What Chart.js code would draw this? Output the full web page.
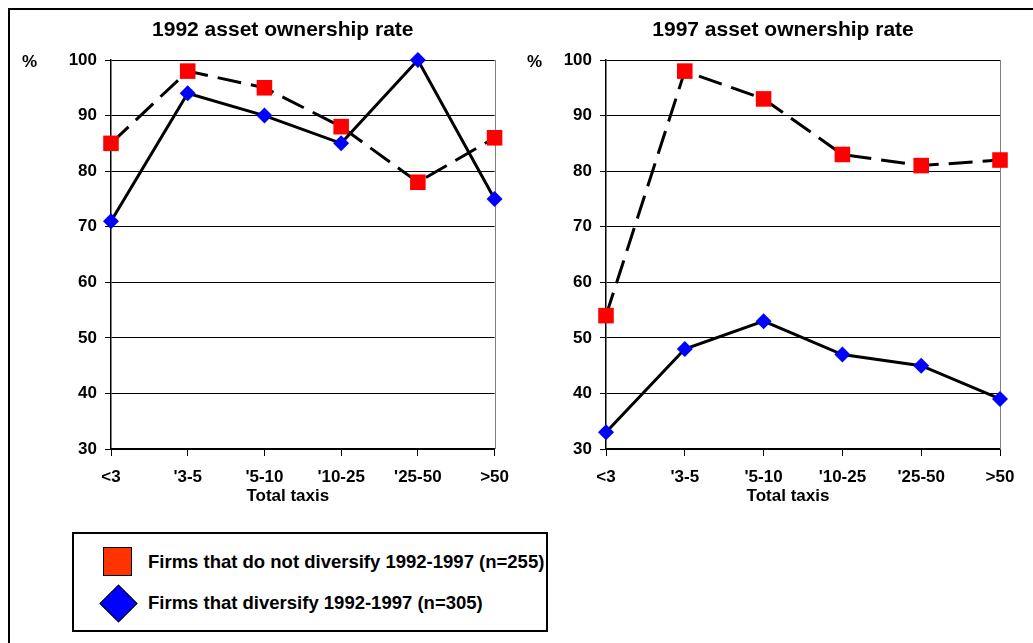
<!DOCTYPE html>
<html>
<head>
<meta charset="utf-8">
<script src="https://cdn.jsdelivr.net/npm/chart.js@4.4.1/dist/chart.umd.min.js"></script>
<style>
  html, body { margin: 0; padding: 0; background: #fff; width: 1033px; height: 643px; overflow: hidden;
               font-family: "Liberation Sans", Arial, sans-serif; }
  #frame { position: absolute; left: 8px; top: 8px; width: 1100px; height: 700px;
           border-left: 2px solid #000; border-top: 2px solid #000; }
  canvas { position: absolute; top: 0; }
  #c1 { left: 0; }
  #c2 { left: 520px; }
  #legend { position: absolute; left: 72px; top: 532px; width: 476px; height: 100px;
            border: 2px solid #000; box-sizing: border-box; background: #fff; }
  #legend .item { position: absolute; left: 74px; font-weight: bold; font-size: 18.5px; line-height: 20px;
                  color: #000; white-space: nowrap; }
  #legend .sq { position: absolute; left: 29px; top: 13px; width: 29px; height: 29px;
                background: #ff3300; border: 1.5px solid #000; box-sizing: border-box; }
  #legend .dm { position: absolute; left: 31px; top: 56px; width: 27px; height: 27px;
                background: #0000ff; border: 1.5px solid #000; box-sizing: border-box; transform: rotate(45deg); }
</style>
</head>
<body>
<div id="frame"></div>
<canvas id="c1" width="520" height="520"></canvas>
<canvas id="c2" width="513" height="520"></canvas>
<div id="legend">
  <div class="sq"></div>
  <div class="item" style="top:18px">Firms that do not diversify 1992-1997 (n=255)</div>
  <div class="dm"></div>
  <div class="item" style="top:59px">Firms that diversify 1992-1997 (n=305)</div>
</div>
<script>
// Firm-size bands (number of taxis)
const categories = ['<3', "'3-5", "'5-10", "'10-25", "'25-50", '>50'];

// Asset ownership rate (%), 1992
const nonDiversifying1992 = [85, 98, 95, 88, 78, 86];
const diversifying1992 = [71, 94, 90, 85, 100, 75];

// Asset ownership rate (%), 1997
const nonDiversifying1997 = [54, 98, 93, 83, 81, 82];
const diversifying1997 = [33, 48, 53, 47, 45, 39];

// Value axis
const yMin = 30;
const yMax = 100;
const yStep = 10;

const seriesNames = ['Firms that do not diversify 1992-1997 (n=255)', 'Firms that diversify 1992-1997 (n=305)'];

const FONT = '"Liberation Sans", Arial, sans-serif';

// Titles, the "%" unit, the axis caption and the grey frame on the right of the plot
const decor = {
  id: 'decor',
  beforeDatasetsDraw(chart, args, opts) {
    const { ctx, chartArea: a } = chart;
    ctx.save();
    ctx.strokeStyle = '#808080';
    ctx.lineWidth = 1;
    ctx.beginPath();
    ctx.moveTo(Math.round(a.right) + 0.5, a.top);
    ctx.lineTo(Math.round(a.right) + 0.5, a.bottom);
    ctx.stroke();
    ctx.restore();
  },
  afterDraw(chart, args, opts) {
    const { ctx, chartArea: a } = chart;
    const mid = (a.left + a.right) / 2;
    ctx.save();
    ctx.fillStyle = '#000';
    ctx.textBaseline = 'middle';
    ctx.textAlign = 'center';
    ctx.font = 'bold 21px ' + FONT;
    ctx.fillText(opts.title, mid - 20, 30);
    ctx.font = 'bold 17px ' + FONT;
    ctx.fillText('Total taxis', mid - 15, 496);
    ctx.textAlign = 'left';
    ctx.fillText('%', opts.unitX, 62);
    ctx.restore();
  }
};

function makeChart(id, title, redValues, blueValues, yWidth, padRight, unitX) {
  return new Chart(document.getElementById(id), {
    type: 'line',
    data: {
      labels: categories,
      datasets: [
        {
          label: seriesNames[1],
          data: blueValues,
          borderColor: '#000',
          borderWidth: 3,
          pointStyle: 'rectRot',
          pointRadius: 8,
          pointBackgroundColor: '#0000ff',
          pointBorderColor: '#0000ff',
          pointBorderWidth: 0,
          tension: 0,
          clip: false
        },
        {
          label: seriesNames[0],
          data: redValues,
          borderColor: '#000',
          borderWidth: 3,
          borderDash: [24, 10],
          pointStyle: 'rect',
          pointRadius: 11,
          pointBackgroundColor: '#ff0000',
          pointBorderColor: '#ff0000',
          pointBorderWidth: 0,
          tension: 0,
          clip: false
        }
      ]
    },
    options: {
      responsive: false,
      animation: false,
      layout: { padding: { top: 60, right: padRight, bottom: 0, left: 0 } },
      plugins: {
        legend: { display: false },
        tooltip: { enabled: false },
        title: { display: false },
        decor: { title: title, unitX: unitX }
      },
      scales: {
        x: {
          type: 'category',
          offset: false,
          grid: { display: true, drawOnChartArea: false, drawTicks: true, tickLength: 7, color: '#000', lineWidth: 1 },
          border: { display: true, color: '#000', width: 1.5 },
          ticks: { color: '#000', font: { family: FONT, size: 17, weight: 'bold' }, padding: 11,
                   maxRotation: 0, autoSkip: false },
          afterFit(scale) { scale.height = 71; }
        },
        y: {
          min: yMin,
          max: yMax,
          grid: { color: '#000', lineWidth: 1, tickLength: 6, drawTicks: true },
          border: { display: true, color: '#000', width: 1.5 },
          ticks: { stepSize: yStep, color: '#000', font: { family: FONT, size: 17, weight: 'bold' }, padding: 8 },
          afterFit(scale) { scale.width = yWidth; }
        }
      }
    },
    plugins: [decor]
  });
}

makeChart('c1', '1992 asset ownership rate', nonDiversifying1992, diversifying1992, 111, 16, 22);
makeChart('c2', '1997 asset ownership rate', nonDiversifying1997, diversifying1997, 86, 33, 7);
</script>
</body>
</html>
